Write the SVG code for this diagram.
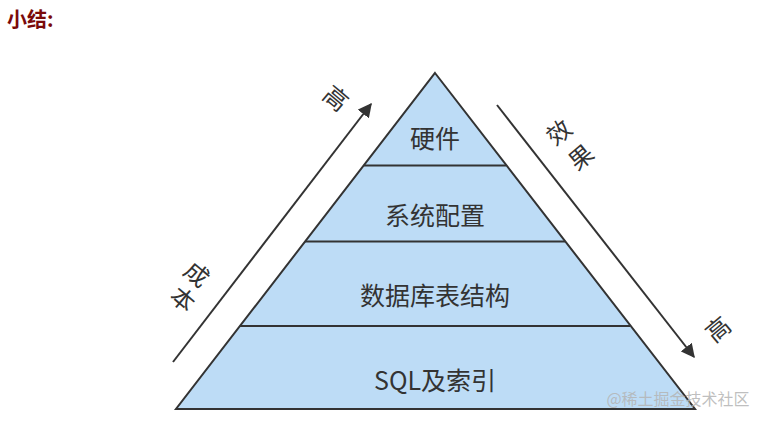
<svg xmlns="http://www.w3.org/2000/svg" width="765" height="422" viewBox="0 0 765 422">
<defs>
<style>
.t{font-family:"Noto Sans CJK SC","Noto Sans",sans-serif;fill:#333;text-anchor:middle;dominant-baseline:central}
.lv{font-size:25px}
.lb{font-size:24px}
.edge{stroke:#333;stroke-width:2;fill:none}
</style>
<marker id="ah" viewBox="0 0 10 10" refX="9" refY="5" markerWidth="7" markerHeight="7" markerUnits="strokeWidth" orient="auto">
<path d="M0,0 L10,5 L0,10 z" fill="#333"/>
</marker>
</defs>
<rect width="765" height="422" fill="#fff"/>
<text x="7" y="18" font-family="Noto Sans CJK SC,sans-serif" font-size="20" font-weight="bold" fill="#7a0a0a" dominant-baseline="central">小结:</text>
<g id="pyramid">
<polygon points="435,73 695,409 176,409" fill="#bddcf6" stroke="#333" stroke-width="2" stroke-linejoin="miter"/>
</g>
<g id="dividers">
<line x1="364" y1="165.5" x2="506" y2="165.5" class="edge"/>
<line x1="305" y1="241.5" x2="565" y2="241.5" class="edge"/>
<line x1="240" y1="326" x2="630" y2="326" class="edge"/>
</g>
<g id="level1"><text class="t lv" x="435" y="137">硬件</text></g>
<g id="level2"><text class="t lv" x="435" y="214">系统配置</text></g>
<g id="level3"><text class="t lv" x="435" y="294">数据库表结构</text></g>
<g id="level4"><text class="t lv" x="435" y="379">SQL及索引</text></g>
<g id="connectors">
<line x1="173" y1="362" x2="371" y2="104" class="edge" marker-end="url(#ah)"/>
<line x1="497" y1="105" x2="694" y2="357" class="edge" marker-end="url(#ah)"/>
</g>
<g id="label-cost">
<text class="t lb" transform="translate(337,97) rotate(40)">高</text>
<text class="t lb" transform="translate(198,273) rotate(40)">成</text>
<text class="t lb" transform="translate(184,298) rotate(40)">本</text>
</g>
<g id="label-effect">
<text class="t lb" transform="translate(558,131) rotate(-40)">效</text>
<text class="t lb" transform="translate(580,156) rotate(-40)">果</text>
<text class="t lb" transform="translate(717,328) rotate(-40)">高</text>
</g>
<text x="678" y="398" font-family="Noto Sans CJK SC,sans-serif" font-size="16" fill="#b4b4b4" fill-opacity="0.85" text-anchor="middle" dominant-baseline="central">@稀土掘金技术社区</text>
</svg>
